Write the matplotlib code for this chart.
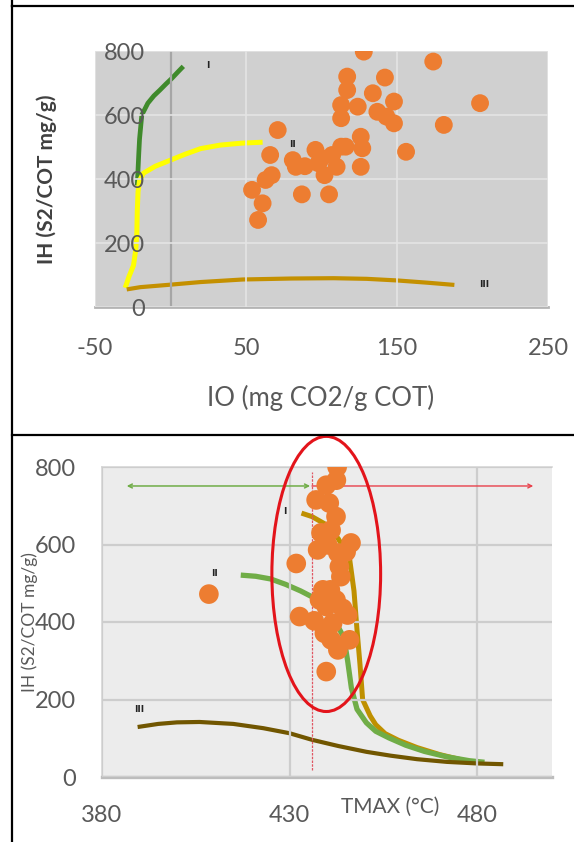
import matplotlib
matplotlib.use('Agg')
import matplotlib.pyplot as plt
from matplotlib.lines import Line2D
from matplotlib.patches import Ellipse

plt.rcParams['font.family'] = ['Lato', 'DejaVu Sans']
plt.rcParams['axes.unicode_minus'] = False

# --- top panel: IH vs IO ---
io_pts = [128, 117, 142, 117, 134, 148, 113, 124, 137, 113, 143, 148, 71, 126,
          116, 127, 96, 66, 107, 81, 83, 98, 110, 126, 102, 67, 63, 54, 87, 105,
          61, 58, 156, 174, 205, 181, 113, 100, 89]
ih_io_pts = [798, 720, 717, 678, 668, 642, 631, 626, 610, 590, 595, 574, 553, 532,
             501, 496, 491, 475, 475, 459, 438, 449, 438, 438, 412, 412, 397, 366, 352, 352,
             324, 272, 485, 767, 637, 569, 501, 465, 440]

type1_io = [-22, -21.5, -21, -20.5, -19, -15, -11, -7, -3, 1, 5, 8.5]
type1_ih = [380, 430, 480, 525, 600, 637, 660, 678, 697, 715, 735, 752]
type2_io = [-30, -27.5, -24.5, -23, -22.3, -22, -21.5, -20.5, -18, -10, 0, 10, 20, 33, 47, 61]
type2_ih = [60, 95, 130, 180, 230, 300, 360, 395, 418, 440, 459, 478, 495, 506, 512, 515]
type3_io = [-29, -20, -2, 20, 48, 80, 108, 130, 150, 170, 188]
type3_ih = [55, 62, 69, 78, 86, 89, 90, 88, 83, 76, 69]

# --- bottom panel: IH vs TMAX ---
tmax_pts = [442.7, 442.5, 439.8, 437.1, 440.6, 442.4, 438.4, 441.1, 437.5, 440.2, 442.9,
            446.4, 445.1, 431.8, 443.3, 443.7, 438.9, 440.6, 438.0, 442.4, 439.8, 444.2,
            432.7, 436.6, 441.5, 445.5, 439.3, 441.1, 446.0, 442.9, 439.8, 408.5, 440.9]
ih_t_pts = [800, 766, 753, 715, 707, 672, 630, 637, 586, 599, 578, 604, 581, 551, 543,
            517, 483, 474, 457, 457, 440, 435, 414, 403, 397, 418, 371, 354, 354, 328,
            272, 472, 483]

type1_t = [433.2, 436, 440, 443, 446, 447.2, 448, 448.8, 449.5, 451.5, 453, 455.5, 459, 464, 470, 476]
type1_t_ih = [681, 672, 650, 615, 565, 480, 380, 290, 200, 158, 135, 112, 95, 76, 58, 44]
type2_t = [417, 421, 425, 429, 433, 436, 439, 442, 444.5, 445.5, 446.5, 448, 450.5, 453,
           456.5, 461, 466, 472, 478, 482]
type2_t_ih = [521, 518, 511, 497, 480, 465, 440, 405, 360, 300, 230, 175, 140, 118,
              101, 82, 66, 52, 42, 38]
type3_t = [389.5, 395, 400, 406, 415, 423, 430, 436, 443, 450.5, 457, 464, 472, 480, 487]
type3_t_ih = [129, 137, 141, 142, 137, 126, 113, 96, 80, 65, 55, 46, 39, 35, 33]

orange = '#ED7D31'
tick_grey = '#595959'

W, H = 574, 842
fig = plt.figure(figsize=(W / 100, H / 100), dpi=100)

# frame lines of the table around the two charts
for xs, ys in [([12, 12], [0, 6]), ([12, W], [6, 6]), ([12, W], [435, 435]), ([12, 12], [6, H])]:
    fig.add_artist(Line2D([x / W for x in xs], [1 - y / H for y in ys],
                          transform=fig.transFigure, color='black', lw=1.6))

# ---------------- top chart ----------------
ax1 = fig.add_axes([95 / W, 1 - 307 / H, (548 - 95) / W, (307 - 51) / H])
ax1.set_facecolor('#d0d0d0')
ax1.set_xlim(-50, 250)
ax1.set_ylim(0, 800)
ax1.set_axisbelow(False)
ax1.grid(True, color='#e4e4e4', lw=1.2)
ax1.axvline(0, color='#a6a6a6', lw=1.6, zorder=2.5)

ax1.plot(type1_io, type1_ih, color='#3f8a2b', lw=3.4, solid_capstyle='butt')
ax1.plot(type2_io, type2_ih, color='#ffff00', lw=3.6, solid_capstyle='butt')
ax1.plot(type3_io, type3_ih, color='#c49000', lw=3.0, solid_capstyle='butt')
ax1.scatter(io_pts, ih_io_pts, s=165, color=orange, edgecolors='none', zorder=3)

for lab, x, y in [('I', 25, 755), ('II', 81, 509), ('III', 208, 69)]:
    ax1.text(x, y, lab, fontsize=6.5, fontweight='bold', color='#222222',
             family='DejaVu Sans', ha='center', va='center', zorder=4)

ax1.set_xticks([-50, 50, 150, 250])
ax1.set_yticks([0, 200, 400, 600, 800])
ax1.tick_params(axis='both', length=0, labelsize=17, labelcolor=tick_grey)
ax1.tick_params(axis='y', pad=-36)
ax1.tick_params(axis='x', pad=22)
for s in ['left', 'right', 'top']:
    ax1.spines[s].set_visible(False)
ax1.spines['bottom'].set_color('#b4b4b4')
ax1.spines['bottom'].set_linewidth(2)

ax1.set_xlabel('IO (mg CO2/g COT)', fontsize=18.5, color=tick_grey, va='center')
ax1.xaxis.set_label_coords(0.497, -0.355)
ax1.set_ylabel('IH (S2/COT mg/g)', fontsize=15, fontweight='bold', color='#404040', va='center')
ax1.yaxis.set_label_coords(-0.106, 0.5)

# ---------------- bottom chart ----------------
ax2 = fig.add_axes([102 / W, 1 - 777 / H, (552 - 102) / W, (777 - 467) / H])
ax2.set_facecolor('#ececec')
ax2.set_xlim(380, 500)
ax2.set_ylim(0, 800)
ax2.set_axisbelow(False)
ax2.grid(True, color='#cdcdcd', lw=1.6)

ax2.plot(type1_t, type1_t_ih, color='#bf9000', lw=3.6, solid_capstyle='butt')
ax2.plot(type2_t, type2_t_ih, color='#70ad47', lw=3.8, solid_capstyle='butt')
ax2.plot(type3_t, type3_t_ih, color='#715600', lw=3.0, solid_capstyle='butt')

ax2.plot([436, 436], [18, 787], color='#e05562', lw=0.9, linestyle=(0, (2, 1)), zorder=2.6)
ax2.annotate('', xy=(386.6, 751), xytext=(435.5, 751),
             arrowprops=dict(arrowstyle='<->', color='#70ad47', lw=1.1,
                             mutation_scale=7, shrinkA=0, shrinkB=0), zorder=2.6)
ax2.annotate('', xy=(495, 751), xytext=(436, 751),
             arrowprops=dict(arrowstyle='->', color='#e8414b', lw=1.0,
                             mutation_scale=7, shrinkA=0, shrinkB=0), zorder=2.6)

ax2.scatter(tmax_pts, ih_t_pts, s=200, color=orange, edgecolors='none', zorder=3)
ax2.add_patch(Ellipse((439.8, 524), width=29, height=710, fill=False,
                      edgecolor='#e3141b', lw=2.2, clip_on=False, zorder=4))

for lab, x, y in [('I', 428.7, 686), ('II', 410, 524), ('III', 390, 173)]:
    ax2.text(x, y, lab, fontsize=6.5, fontweight='bold', color='#222222',
             family='DejaVu Sans', ha='center', va='center', zorder=4)

ax2.set_xticks([380, 430, 480])
ax2.set_yticks([0, 200, 400, 600, 800])
ax2.tick_params(axis='both', length=0, labelsize=17, labelcolor=tick_grey)
ax2.tick_params(axis='y', pad=19)
ax2.tick_params(axis='x', pad=20)
ax2.spines['right'].set_visible(False)
for s in ['left', 'top']:
    ax2.spines[s].set_color('#d6d6d6')
    ax2.spines[s].set_linewidth(1.2)
ax2.spines['bottom'].set_color('#bdbdbd')
ax2.spines['bottom'].set_linewidth(2.4)

ax2.set_xlabel('TMAX (°C)', fontsize=15, color=tick_grey, va='center')
ax2.xaxis.set_label_coords(0.64, -0.097)
ax2.set_ylabel('IH (S2/COT mg/g)', fontsize=12.5, color=tick_grey, va='center')
ax2.yaxis.set_label_coords(-0.16, 0.5)

fig.savefig('out.png', dpi=100)
